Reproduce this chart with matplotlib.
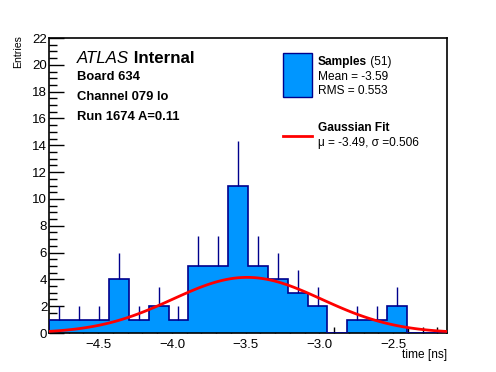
import numpy as np
import matplotlib
matplotlib.use('Agg')
import matplotlib.pyplot as plt
from matplotlib.patches import Rectangle
from matplotlib.lines import Line2D
from matplotlib.ticker import MultipleLocator

plt.rcParams['font.family'] = ['Liberation Sans', 'DejaVu Sans']

# histogram of sample times (20 bins over the axis range)
x_lo, x_hi = -4.832, -2.136
counts = [1, 1, 1, 4, 1, 2, 1, 5, 5, 11, 5, 4, 3, 2, 0, 1, 1, 2, 0, 0]
n_entries = 51
mean, rms = -3.59, 0.553

# gaussian fit parameters
fit_amp = 4.15
fit_mu = -3.49
fit_sigma = 0.506

fill_col = '#0096ff'
edge_col = '#00008c'

fig = plt.figure(figsize=(4.96, 3.72), dpi=100)
ax = fig.add_axes([0.0994, 0.1048, 0.8012, 0.7930])

counts = np.array(counts, dtype=float)
edges = np.linspace(x_lo, x_hi, len(counts) + 1)
centers = 0.5 * (edges[:-1] + edges[1:])

ax.stairs(counts, edges, fill=True, color=fill_col, zorder=2)
ax.stairs(counts, edges, color=edge_col, lw=1.2, baseline=0, zorder=3)
nz = counts > 0
ax.vlines(centers[nz], counts[nz], counts[nz] + np.sqrt(counts[nz]),
          color=edge_col, lw=1.0, zorder=3)

xf = np.linspace(x_lo, x_hi, 100)
ax.plot(xf, fit_amp * np.exp(-0.5 * ((xf - fit_mu) / fit_sigma) ** 2),
        color='red', lw=2.0, zorder=4)

ax.set_xlim(x_lo, x_hi)
ax.set_ylim(0, 22)
ax.xaxis.set_major_locator(MultipleLocator(0.5))
ax.xaxis.set_minor_locator(MultipleLocator(0.1))
ax.yaxis.set_major_locator(MultipleLocator(2))
ax.yaxis.set_minor_locator(MultipleLocator(0.5))
ax.tick_params(axis='both', which='both', direction='in', labelsize=9.5, width=1.0)
ax.tick_params(axis='x', which='major', length=8, pad=4)
ax.tick_params(axis='x', which='minor', length=4)
ax.tick_params(axis='y', which='major', length=11, pad=1.5)
ax.tick_params(axis='y', which='minor', length=6)
for s in ax.spines.values():
    s.set_linewidth(1.2)

fig.text(0.036, 0.905, 'Entries', rotation=90, ha='center', va='top', fontsize=7.6)
fig.text(0.902, 0.045, 'time [ns]', ha='right', va='center', fontsize=8.6)

# top-left labels
t = ax.text(0.0697, 0.932, 'ATLAS', style='italic', fontsize=12.2,
            transform=ax.transAxes, va='center')
ax.annotate(' Internal', xy=(1, 0), xycoords=t, va='bottom', fontsize=12.2,
            fontweight='bold')
for y, s in [(0.868, 'Board 634'), (0.800, 'Channel 079 lo'), (0.732, 'Run 1674 A=0.11')]:
    ax.text(0.0697, y, s, fontweight='bold', fontsize=9.4, transform=ax.transAxes,
            va='center')

# legend
ax.add_patch(Rectangle((0.588, 0.800), 0.073, 0.149, transform=ax.transAxes,
                       facecolor=fill_col, edgecolor=edge_col, lw=1.0, zorder=5))
ax.add_line(Line2D([0.588, 0.661], [0.668, 0.668], transform=ax.transAxes,
                   color='red', lw=2.0, zorder=5))
fs = 8.6
t2 = ax.text(0.676, 0.919, 'Samples', fontweight='bold', fontsize=fs,
             transform=ax.transAxes, va='center')
ax.annotate(' (%d)' % n_entries, xy=(1, 0), xycoords=t2, va='bottom', fontsize=fs)
ax.text(0.676, 0.868, 'Mean = %.2f' % mean, fontsize=fs, transform=ax.transAxes, va='center')
ax.text(0.676, 0.820, 'RMS = %.3f' % rms, fontsize=fs, transform=ax.transAxes, va='center')
ax.text(0.676, 0.695, 'Gaussian Fit', fontweight='bold', fontsize=fs,
        transform=ax.transAxes, va='center')
ax.text(0.676, 0.644, 'μ = %.2f, σ =%.3f' % (fit_mu, fit_sigma), fontsize=fs,
        transform=ax.transAxes, va='center')

fig.savefig('out.png', dpi=100)
